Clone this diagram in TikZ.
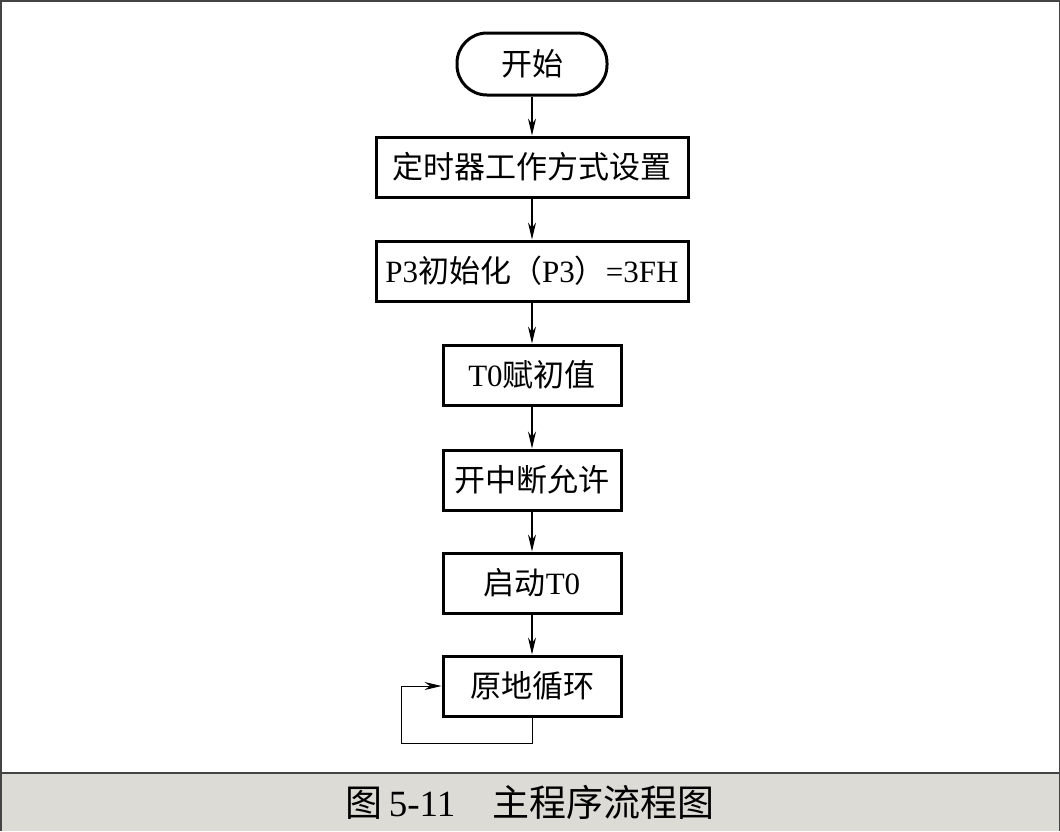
\documentclass[tikz,border=0pt]{standalone}
\usepackage{fontspec}
\setmainfont{Liberation Serif}
\newfontfamily\cjk{Noto Sans CJK SC}
\usepackage{xcolor}
\usepackage{tikz}
\usetikzlibrary{arrows.meta,positioning,calc}

\definecolor{capgray}{HTML}{DCDBD6}
\definecolor{framegray}{HTML}{444444}

\tikzset{
  procbox/.style={draw, line width=3pt, minimum height=60pt, inner sep=0pt,
    font=\fontsize{31}{31}\selectfont},
  startbox/.style={procbox, rounded corners=30pt, minimum width=150pt, minimum height=62pt},
  flowline/.style={line width=1.2pt, -{Stealth[length=17pt,width=8pt]}},
}

\begin{document}
\begin{tikzpicture}[x=1pt,y=-1pt]
		\useasboundingbox (0,0) rectangle (1060,831);

		% frame and caption band
		\fill[capgray] (0,773) rectangle (1060,831);
		\draw[framegray, line width=1.5pt] (0.75,831) -- (0.75,0.75) -- (1059.25,0.75) -- (1059.25,831);
		\draw[framegray, line width=1.5pt] (0,773) -- (1060,773);
		\node (cap) at (530,802) {\fontsize{37}{37}\selectfont{\cjk 图}\,5-11\quad{\cjk 主程序流程图}};

		% Steps
		\node[startbox] (start) at (532,64) {\cjk 开始};
		\node[procbox, minimum width=312pt] (tmode) at (532,167) {\cjk 定时器工作方式设置};
		\node[procbox, minimum width=312pt] (pinit) at (532,271) {P3{\cjk 初始化（}P3{\cjk ）}=3FH};
		\node[procbox, minimum width=178pt] (tzero) at (532,375) {T0{\cjk 赋初值}};
		\node[procbox, minimum width=178pt] (intr) at (532,480) {\cjk 开中断允许};
		\node[procbox, minimum width=178pt] (run) at (532,583) {{\cjk 启动}T0};
		\node[procbox, minimum width=178pt] (idle) at (532,686) {\cjk 原地循环};

		\draw[flowline] (start) -- (tmode);
		\draw[flowline] (tmode) -- (pinit);
		\draw[flowline] (pinit) -- (tzero);
		\draw[flowline] (tzero) -- (intr);
		\draw[flowline] (intr) -- (run);
		\draw[flowline] (run) -- (idle);

		% self loop
		\coordinate (loopdn) at (532,743);
		\coordinate (loopl) at (401,743);
		\draw[flowline, line width=0.9pt] (idle.south) -- (loopdn) -- (loopl) |- (idle.west);
	\end{tikzpicture}
\end{document}
